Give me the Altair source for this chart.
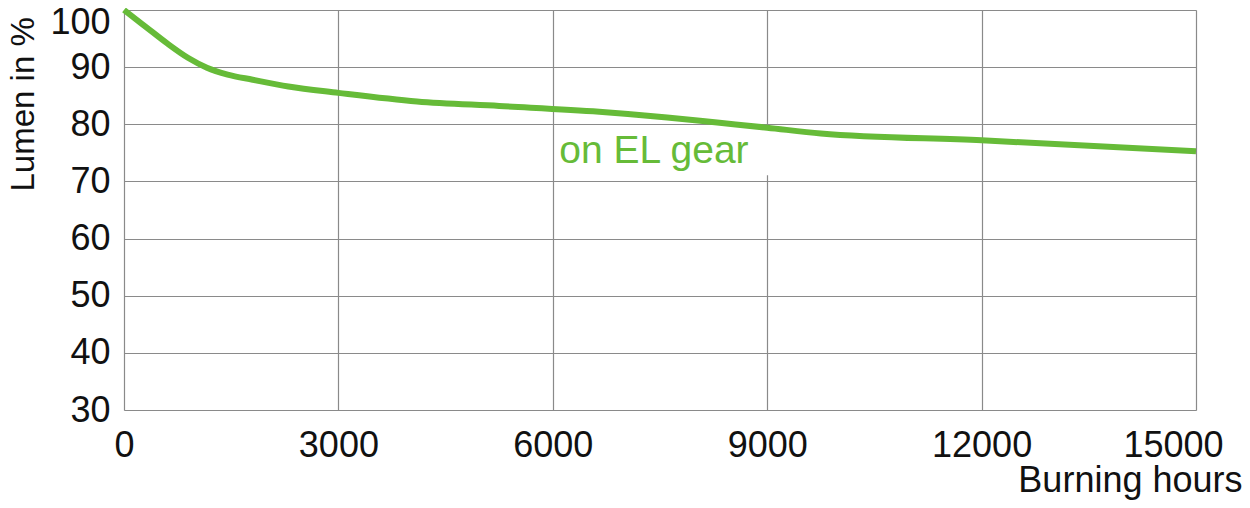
import altair as alt
import pandas as pd

hours = [0, 300, 600, 900, 1160, 1450, 1800, 2300, 3000, 4100, 5250, 6650, 7600, 8300, 9000, 9750, 12000, 15000]
lumen = [100, 97.1, 94.2, 91.6, 89.9, 88.7, 87.8, 86.6, 85.5, 84.0, 83.2, 82.2, 81.2, 80.3, 79.4, 78.4, 77.2, 75.3]

x_ticks = [0, 3000, 6000, 9000, 12000, 15000]
y_ticks = [30, 40, 50, 60, 70, 80, 90, 100]

label_text = ["on EL gear"]
label_x = [6090]
label_y = [73.3]
box_x = [6050]
box_x2 = [9060]
box_y = [79.7]
box_y2 = [71.1]

GREEN = "#66bb38"
FONT = "Liberation Sans"

df = pd.DataFrame({"hours": hours, "lumen": lumen})
box_df = pd.DataFrame({"x": box_x, "x2": box_x2, "y": box_y, "y2": box_y2})
lab_df = pd.DataFrame({"x": label_x, "y": label_y, "t": label_text})

xscale = alt.Scale(domain=[0, 15000], nice=False, zero=False)
yscale = alt.Scale(domain=[30, 100], nice=False, zero=False)

xaxis = alt.Axis(
    values=x_ticks, title="Burning hours", grid=True, ticks=False, domain=False,
    labelFontSize=36, labelFont=FONT, labelColor="#111", labelPadding=18,
    labelFlush=False, labelOverlap=False,
    labelOffset={"condition": {"test": "datum.value == 15000", "value": -23}, "value": 0},
    titleFontSize=36, titleFont=FONT, titleFontWeight="normal", titleColor="#111",
    titleAlign="right", titleBaseline="alphabetic", titleX=1118, titleY=81,
    gridColor="#8a8a8a", gridWidth=1.2, format="d",
)
yaxis = alt.Axis(
    values=y_ticks, title="Lumen in %", grid=True, ticks=False, domain=False,
    labelFontSize=36, labelFont=FONT, labelColor="#111", labelPadding=14,
    labelFlush=False, labelOverlap=False,
    labelOffset={"condition": {"test": "datum.value == 100", "value": 12}, "value": 0},
    titleFontSize=33, titleFont=FONT, titleFontWeight="normal", titleColor="#111",
    titleAngle=-90, titleAlign="left", titleBaseline="alphabetic", titleX=-91, titleY=181,
    gridColor="#8a8a8a", gridWidth=1.2,
)

line = alt.Chart(df).mark_line(color=GREEN, strokeWidth=6, interpolate="monotone").encode(
    x=alt.X("hours:Q", scale=xscale, axis=xaxis),
    y=alt.Y("lumen:Q", scale=yscale, axis=yaxis),
)

box = alt.Chart(box_df).mark_rect(color="white").encode(
    x=alt.X("x:Q", scale=xscale), x2="x2:Q",
    y=alt.Y("y:Q", scale=yscale), y2="y2:Q",
)

label = alt.Chart(lab_df).mark_text(
    color=GREEN, fontSize=39, font=FONT, align="left", baseline="alphabetic"
).encode(
    x=alt.X("x:Q", scale=xscale), y=alt.Y("y:Q", scale=yscale), text="t:N"
)

chart = alt.layer(box, line, label).properties(
    width=1072, height=400,
    autosize=alt.AutoSizeParams(type="none"),
    padding={"left": 116, "top": 2, "right": 46, "bottom": 90},
).configure_view(stroke="#8a8a8a", strokeWidth=1.5).configure(background="white")

chart.save("out.html", embed_options={"renderer": "svg", "actions": False})
